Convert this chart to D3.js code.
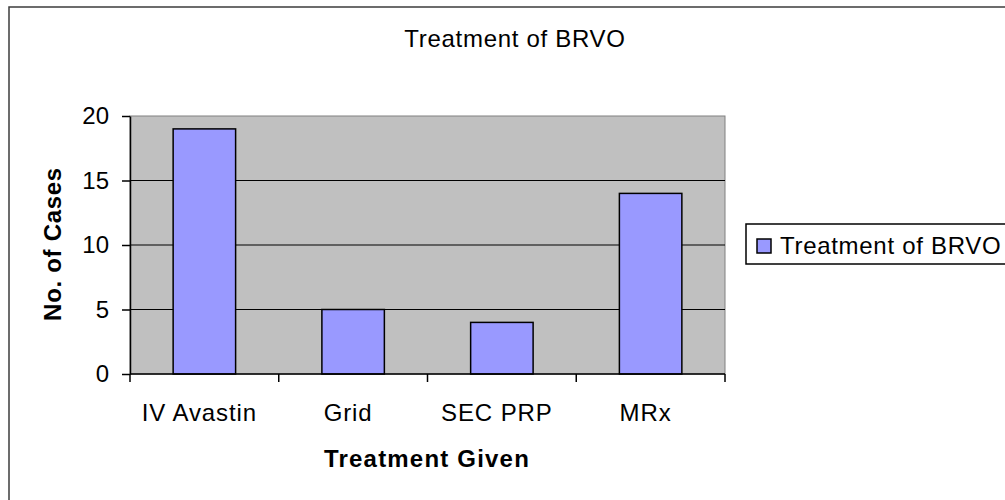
<!DOCTYPE html>
<html>
<head>
<meta charset="utf-8">
<script src="https://cdn.jsdelivr.net/npm/d3@7"></script>
<style>
  body { margin: 0; background: #fff; }
  text { font-family: "Liberation Sans", Arial, sans-serif; }
</style>
</head>
<body>
<div id="chart"></div>
<script>
// data
var categories = ["IV Avastin", "Grid", "SEC PRP", "MRx"];
var cases = [19, 5, 4, 14];
var yTicks = [0, 5, 10, 15, 20];
var seriesName = "Treatment of BRVO";

var W = 1005, H = 500;
var svg = d3.select("#chart").append("svg")
    .attr("width", W)
    .attr("height", H);

// outer chart frame
svg.append("rect")
    .attr("x", 9).attr("y", 7)
    .attr("width", W + 20).attr("height", H + 20)
    .attr("fill", "#fff")
    .attr("stroke", "#3c3c3c")
    .attr("stroke-width", 1.5);

var plot = {left: 130, top: 116, right: 725, bottom: 374};

var x = d3.scaleBand()
    .domain(categories)
    .range([plot.left, plot.right])
    .paddingInner(0.58)
    .paddingOuter(0.29);

var y = d3.scaleLinear()
    .domain([0, 20])
    .range([plot.bottom, plot.top]);

// plot area
svg.append("rect")
    .attr("x", plot.left).attr("y", plot.top)
    .attr("width", plot.right - plot.left)
    .attr("height", plot.bottom - plot.top)
    .attr("fill", "#c0c0c0")
    .attr("stroke", "#808080")
    .attr("stroke-width", 1);

// gridlines
svg.append("g").selectAll("line")
    .data(yTicks.filter(d => d > 0 && d < 20))
    .enter().append("line")
    .attr("x1", plot.left).attr("x2", plot.right)
    .attr("y1", d => y(d)).attr("y2", d => y(d))
    .attr("stroke", "#000")
    .attr("stroke-width", 1.2);

// bars
svg.append("g").selectAll("rect")
    .data(cases)
    .enter().append("rect")
    .attr("x", (d, i) => x(categories[i]))
    .attr("y", d => y(d))
    .attr("width", x.bandwidth())
    .attr("height", d => y(0) - y(d))
    .attr("fill", "#9999ff")
    .attr("stroke", "#000")
    .attr("stroke-width", 1.5);

// y axis
var yAxis = svg.append("g")
    .attr("transform", "translate(" + plot.left + ",0)")
    .call(d3.axisLeft(y).tickValues(yTicks).tickSize(8).tickPadding(13).tickSizeOuter(0));
yAxis.select(".domain").attr("stroke", "#000").attr("stroke-width", 1.5);
yAxis.selectAll(".tick line").attr("stroke", "#000").attr("stroke-width", 1.5);
yAxis.selectAll("text")
    .attr("font-size", 24)
    .attr("fill", "#000")
    .style("font-family", "'Liberation Sans', Arial, sans-serif");

// x axis: ticks between categories
var xTicks = d3.range(categories.length + 1).map(i => plot.left + i * (plot.right - plot.left) / categories.length);
var xAxis = svg.append("g");
xAxis.append("line")
    .attr("x1", plot.left).attr("x2", plot.right)
    .attr("y1", plot.bottom).attr("y2", plot.bottom)
    .attr("stroke", "#000").attr("stroke-width", 1.5);
xAxis.selectAll("line.tk")
    .data(xTicks)
    .enter().append("line")
    .attr("class", "tk")
    .attr("x1", d => d).attr("x2", d => d)
    .attr("y1", plot.bottom).attr("y2", plot.bottom + 8)
    .attr("stroke", "#000").attr("stroke-width", 1.5);
xAxis.selectAll("text")
    .data(categories)
    .enter().append("text")
    .attr("x", d => x(d) + x.bandwidth() / 2 - 5)
    .attr("y", 421)
    .attr("text-anchor", "middle")
    .attr("font-size", 24)
    .attr("letter-spacing", 0.9)
    .text(d => d);

// titles
svg.append("text")
    .attr("x", 515).attr("y", 47)
    .attr("text-anchor", "middle")
    .attr("font-size", 24)
    .attr("letter-spacing", 0.7)
    .text("Treatment of BRVO");

svg.append("text")
    .attr("x", 427).attr("y", 467)
    .attr("text-anchor", "middle")
    .attr("font-size", 24)
    .attr("font-weight", "bold")
    .attr("letter-spacing", 1.2)
    .text("Treatment Given");

svg.append("text")
    .attr("transform", "translate(61,244) rotate(-90)")
    .attr("text-anchor", "middle")
    .attr("font-size", 24)
    .attr("font-weight", "bold")
    .attr("letter-spacing", 0.7)
    .text("No. of Cases");

// legend
var lg = svg.append("g");
lg.append("rect")
    .attr("x", 746).attr("y", 224)
    .attr("width", 300).attr("height", 40)
    .attr("fill", "#fff")
    .attr("stroke", "#000")
    .attr("stroke-width", 1.5);
lg.append("rect")
    .attr("x", 757).attr("y", 239)
    .attr("width", 14).attr("height", 14)
    .attr("fill", "#9999ff")
    .attr("stroke", "#000")
    .attr("stroke-width", 1.5);
lg.append("text")
    .attr("x", 780).attr("y", 254)
    .attr("font-size", 24)
    .attr("letter-spacing", 0.7)
    .text(seriesName);
</script>
</body>
</html>
